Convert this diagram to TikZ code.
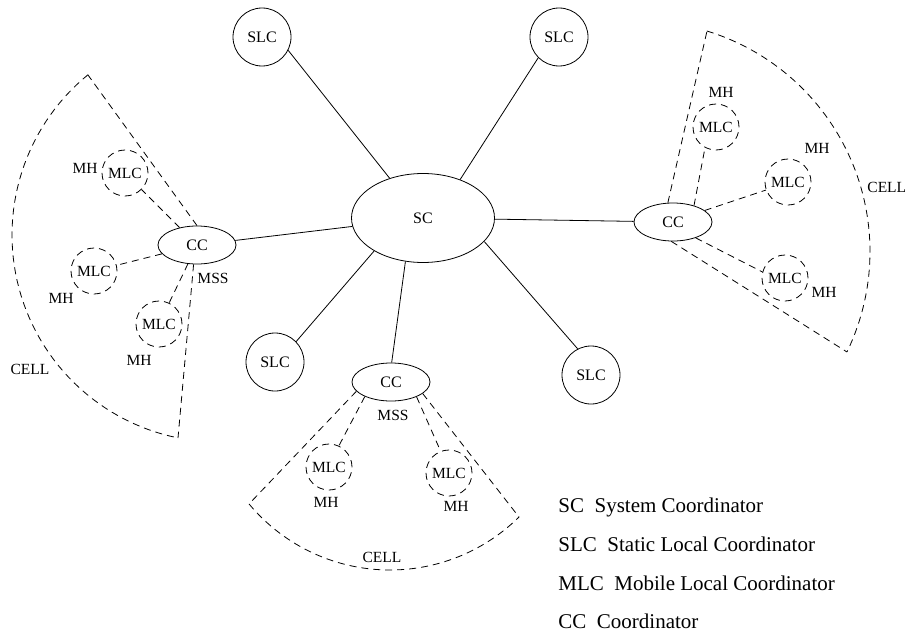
\documentclass[tikz,border=0pt]{standalone}
\usepackage{fontspec}
\setmainfont{Liberation Serif}
\usetikzlibrary{shapes.geometric}
\begin{document}
\begin{tikzpicture}[x=1pt,y=-1pt, line width=0.8pt,
  every node/.style={font=\fontsize{16}{18}\selectfont},
  celldash/.style={dash pattern=on 7pt off 5pt},
  scnode/.style={ellipse, draw, solid, inner sep=0pt, minimum width=143pt, minimum height=89pt},
  ccnode/.style={ellipse, draw, solid, inner sep=0pt, minimum width=78pt, minimum height=38pt},
  slcnode/.style={circle, draw, solid, inner sep=0pt, minimum size=58pt},
  mlcnode/.style={circle, draw, celldash, inner sep=0pt, minimum size=46pt, font=\fontsize{15.5}{17}\selectfont},
  lbl/.style={font=\fontsize{15.5}{17}\selectfont, inner sep=0pt},
  legend/.style={font=\fontsize{21}{23}\selectfont, anchor=base west, inner sep=0pt}]
\useasboundingbox (0,0) rectangle (907,634);

% main nodes
\node[scnode] (sc) at (423,218) {SC};
\node[slcnode] (slc1) at (262,37) {SLC};
\node[slcnode] (slc2) at (559,37) {SLC};
\node[slcnode] (slc3) at (275,362) {SLC};
\node[slcnode] (slc4) at (591,375) {SLC};
\node[ccnode] (ccl) at (197,245) {CC};
\node[ccnode] (ccr) at (673,222) {CC};
\node[ccnode] (ccb) at (391,382) {CC};

% solid links
\draw (slc1.-27) -- (sc.130);
\draw (slc2.-135) -- (sc.46);
\draw (slc3.44) -- (sc.214);
\draw (slc4.117) -- (sc.-21);
\draw (sc) -- (ccl);
\draw (sc) -- (ccr);
\draw (ccb.88) -- (sc.-112);

% MLC nodes
\node[mlcnode] (ml1) at (125,173) {MLC};
\node[mlcnode] (ml2) at (94,271) {MLC};
\node[mlcnode] (ml3) at (159,324) {MLC};
\node[mlcnode] (mr1) at (716,127) {MLC};
\node[mlcnode] (mr2) at (788,182) {MLC};
\node[mlcnode] (mr3) at (785,278) {MLC};
\node[mlcnode] (mb1) at (329,467) {MLC};
\node[mlcnode] (mb2) at (449,473) {MLC};

% dashed links CC - MLC
\draw[celldash] (ccl) -- (ml1);
\draw[celldash] (ccl) -- (ml2);
\draw[celldash] (ccl) -- (ml3);
\draw[celldash] (ccr.38) -- (mr1.242);
\draw[celldash] (ccr.20) -- (mr2.200);
\draw[celldash] (ccr.-35) -- (mr3.165);
\draw[celldash] (ccb.209) -- (mb1.65);
\draw[celldash] (ccb.-30) -- (mb2.111);

% cell sectors
\coordinate (lA) at (88,75);
\coordinate (lB) at (178,438);
\draw[celldash] (ccl.north) -- (lA);
\draw[celldash] (ccl.-100) -- (lB);
\draw[celldash] plot[domain=-129.2:-258.6, samples=60] ({219+207*cos(\x)},{235+207*sin(\x)});

\coordinate (rA) at (707,31);
\coordinate (rB) at (847,352);
\draw[celldash] (ccr.105) -- (rA);
\draw[celldash] (ccr.-95) -- (rB);
\draw[celldash] plot[domain=-73:25.8, samples=60] ({639.4+230.6*cos(\x)},{251.5+230.6*sin(\x)});

\coordinate (bA) at (249,504);
\coordinate (bB) at (519,517);
\draw[celldash] (ccb.195) -- (bA);
\draw[celldash] (ccb.-20) -- (bB);
\draw[celldash] plot[domain=140.2:45.3, samples=60] ({390+183.5*cos(\x)},{386.5+183.5*sin(\x)});

% labels
\node[lbl] (mh1) at (85,168) {MH};
\node[lbl] (mh2) at (61,298) {MH};
\node[lbl] (mh3) at (139,360) {MH};
\node[lbl] (mh4) at (721,92) {MH};
\node[lbl] (mh5) at (817,148) {MH};
\node[lbl] (mh6) at (824,292) {MH};
\node[lbl] (mh7) at (326,502) {MH};
\node[lbl] (mh8) at (456,506) {MH};
\node[lbl] (mss1) at (213,278) {MSS};
\node[lbl] (mss2) at (393,415) {MSS};
\node[lbl] (cell1) at (30,369) {CELL};
\node[lbl, anchor=west] (cell2) at (867,187) {CELL};
\node[lbl] (cell3) at (382,557) {CELL};

% legend
\node[legend] (lg1) at (558,512) {SC\hspace{0.5em}System Coordinator};
\node[legend] (lg2) at (558,551) {SLC\hspace{0.5em}Static Local Coordinator};
\node[legend] (lg3) at (558,590) {MLC\hspace{0.5em}Mobile Local Coordinator};
\node[legend] (lg4) at (558,628) {CC\hspace{0.5em}Coordinator};
\end{tikzpicture}
\end{document}
